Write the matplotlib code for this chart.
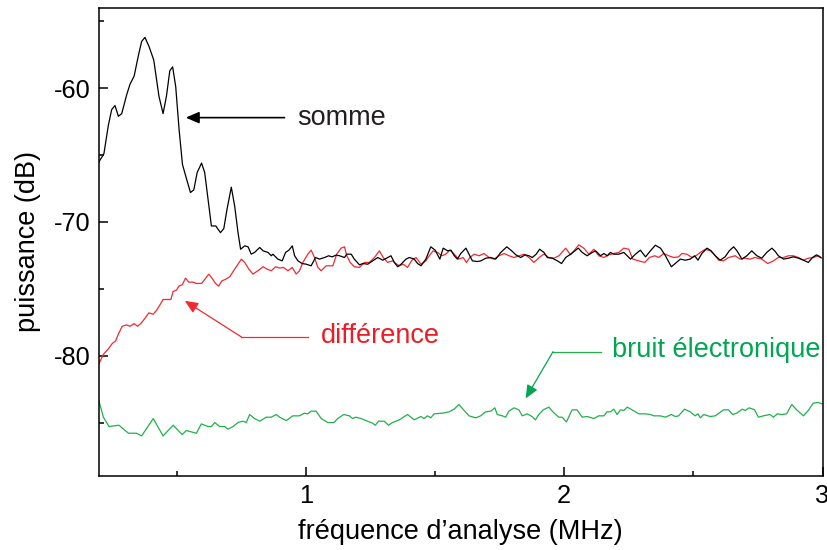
import matplotlib
matplotlib.use("Agg")
import matplotlib.pyplot as plt
from matplotlib.ticker import MultipleLocator

plt.rcParams['font.family'] = ['Liberation Sans', 'DejaVu Sans']

# ---- data (frequency in MHz, power in dB) ----
somme_x = [0.200, 0.219, 0.236, 0.249, 0.262, 0.275, 0.288, 0.307, 0.320, 0.336,
           0.352, 0.365, 0.378, 0.394, 0.412, 0.432, 0.448, 0.461, 0.474, 0.485,
           0.497, 0.510, 0.523, 0.539, 0.554, 0.567, 0.580, 0.597, 0.609, 0.622,
           0.635, 0.652, 0.670, 0.683, 0.695, 0.712, 0.725, 0.738,
           0.748, 0.764, 0.777, 0.789, 0.802, 0.822, 0.835, 0.854, 0.867, 0.873,
           0.892, 0.909, 0.922, 0.935, 0.948, 0.957, 0.970, 0.986, 1.002, 1.021,
           1.038, 1.053, 1.073, 1.089, 1.102, 1.118, 1.131, 1.150, 1.159, 1.176,
           1.188, 1.208, 1.221, 1.240, 1.259, 1.279, 1.298, 1.317, 1.330, 1.343,
           1.356, 1.369, 1.388, 1.401, 1.420, 1.433, 1.446, 1.465,
           1.484, 1.501, 1.519, 1.532, 1.549, 1.562, 1.575, 1.587, 1.600, 1.620,
           1.632, 1.645, 1.665, 1.678, 1.697, 1.716, 1.735, 1.755, 1.778, 1.797,
           1.813, 1.832, 1.849, 1.864, 1.877, 1.892, 1.905, 1.922, 1.935, 1.954,
           1.974, 1.990, 2.006, 2.025, 2.042, 2.055, 2.070, 2.089, 2.109, 2.122,
           2.141, 2.154, 2.167, 2.179, 2.192, 2.212,
           2.231, 2.257, 2.276, 2.295, 2.315, 2.334, 2.353, 2.373, 2.392, 2.415,
           2.430, 2.450, 2.469, 2.488, 2.505, 2.518, 2.533, 2.553, 2.569, 2.585,
           2.604, 2.623, 2.639, 2.656, 2.669, 2.688, 2.707, 2.726, 2.746, 2.765,
           2.784, 2.804, 2.817, 2.829, 2.849, 2.868, 2.887, 2.907, 2.926, 2.945,
           2.961, 2.977, 2.993]
somme_y = [-65.5, -64.9, -62.8, -61.6, -61.3, -62.1, -61.9, -60.5, -59.7, -59.1,
           -57.6, -56.5, -56.2, -56.9, -57.9, -60.6, -61.9, -60.6, -58.7, -58.4,
           -59.9, -63.1, -65.7, -66.8, -67.8, -67.6, -66.3, -65.6, -66.3, -68.3,
           -70.3, -70.3, -70.8, -70.5, -69.1, -67.4, -68.8, -70.8,
           -72.04, -71.79, -71.86, -72.41, -72.28, -71.91, -72.16, -72.28, -72.53, -72.41,
           -72.78, -72.91, -72.28, -72.11, -71.79, -72.53, -72.91, -73.11, -73.16, -73.28,
           -72.66, -72.78, -72.66, -72.53, -72.61, -72.48, -72.53, -72.66, -72.41, -72.41,
           -72.78, -73.21, -73.11, -73.16, -72.91, -72.66, -72.86, -72.66, -72.53, -73.03,
           -73.35, -73.16, -72.78, -72.66, -72.78, -73.11, -73.28, -72.78,
           -71.86, -72.11, -72.78, -71.96, -72.16, -72.11, -72.53, -72.78, -72.36, -71.96,
           -72.41, -72.91, -72.96, -72.91, -72.71, -72.66, -72.78, -72.28, -71.86, -72.16,
           -72.46, -72.66, -72.46, -72.53, -72.66, -72.41, -72.04, -72.28, -72.66, -72.71,
           -72.91, -73.11, -72.66, -72.41, -72.16, -71.96, -72.28, -72.53, -72.28, -72.16,
           -72.53, -72.36, -72.53, -72.28, -72.41, -72.41,
           -72.28, -72.78, -72.41, -72.11, -72.61, -72.16, -71.74, -71.96, -72.53, -73.35,
           -73.11, -72.78, -72.86, -72.78, -72.53, -72.86, -72.36, -71.96, -72.16, -72.53,
           -72.86, -72.61, -72.16, -71.86, -72.16, -72.78, -72.53, -72.16, -72.53, -72.71,
           -72.28, -71.96, -72.21, -72.53, -72.78, -72.71, -72.61, -72.71, -72.86, -73.03,
           -72.66, -72.46, -72.66]

diff_x = [0.200, 0.217, 0.236, 0.251, 0.264, 0.277, 0.290, 0.307, 0.320, 0.336,
          0.349, 0.362, 0.378, 0.393, 0.410, 0.423, 0.436, 0.448, 0.465, 0.478,
          0.487, 0.500, 0.509, 0.522, 0.535, 0.547, 0.564, 0.577, 0.597, 0.609,
          0.625, 0.637, 0.651, 0.663, 0.676, 0.689,
          0.706, 0.725, 0.738, 0.751, 0.764, 0.780, 0.796, 0.815, 0.835, 0.850,
          0.867, 0.883, 0.899, 0.914, 0.931, 0.948, 0.963, 0.976, 0.989, 1.008,
          1.021, 1.034, 1.047, 1.060, 1.079, 1.105, 1.120, 1.137, 1.150, 1.159,
          1.172, 1.188, 1.208, 1.227, 1.246, 1.266, 1.285, 1.300, 1.317, 1.336,
          1.349, 1.362, 1.378, 1.394, 1.411, 1.427, 1.446, 1.465, 1.478,
          1.493, 1.510, 1.527, 1.542, 1.558, 1.575, 1.591, 1.609, 1.622, 1.635,
          1.652, 1.671, 1.690, 1.710, 1.729, 1.748, 1.768, 1.787, 1.806, 1.826,
          1.845, 1.864, 1.883, 1.903, 1.922, 1.941, 1.961, 1.980, 2.006, 2.025,
          2.038, 2.057, 2.076, 2.096, 2.115, 2.134, 2.154, 2.173, 2.192, 2.212,
          2.231, 2.250, 2.266, 2.289, 2.312, 2.330, 2.351, 2.366, 2.385, 2.405,
          2.424, 2.443, 2.456, 2.475, 2.495, 2.510, 2.527, 2.546, 2.566, 2.582,
          2.598, 2.617, 2.636, 2.662, 2.681, 2.701, 2.720, 2.739, 2.765, 2.788,
          2.810, 2.829, 2.849, 2.868, 2.887, 2.907, 2.926, 2.945, 2.965, 2.984,
          2.997]
diff_y = [-80.6, -79.9, -79.5, -79.1, -78.9, -78.3, -77.8, -77.7, -77.8, -77.6,
          -77.8, -77.6, -77.2, -76.8, -76.9, -76.6, -76.2, -75.8, -75.8, -75.8,
          -75.2, -75.1, -74.8, -74.7, -74.2, -74.5, -74.5, -74.6, -74.6, -74.3,
          -73.9, -74.2, -74.6, -74.8, -74.4, -74.3,
          -74.10, -73.53, -73.16, -72.78, -73.03, -73.53, -73.90, -73.65, -73.35, -73.53,
          -73.65, -73.35, -73.45, -73.40, -73.65, -73.40, -73.90, -73.65, -73.03, -72.41,
          -72.11, -72.66, -73.40, -73.65, -73.28, -73.28, -72.41, -71.96, -71.86, -72.53,
          -73.03, -73.35, -73.40, -73.03, -73.03, -72.66, -72.16, -72.66, -73.03, -72.91,
          -73.11, -73.28, -73.16, -73.40, -72.86, -72.66, -73.16, -72.91, -72.53,
          -72.16, -72.28, -72.53, -72.41, -72.11, -72.41, -72.78, -72.66, -73.03, -72.66,
          -72.41, -72.53, -72.36, -72.66, -72.78, -72.53, -72.36, -72.53, -72.66, -72.53,
          -72.41, -72.66, -73.03, -72.66, -72.41, -72.66, -72.71, -72.53, -71.96, -72.46,
          -72.16, -71.71, -71.96, -72.41, -72.04, -72.53, -72.66, -72.46, -72.36, -72.28,
          -71.96, -72.04, -72.78, -72.91, -73.03, -72.66, -72.53, -72.66, -72.36, -72.53,
          -72.66, -72.61, -72.36, -72.41, -72.66, -72.53, -72.28, -72.04, -72.16, -72.46,
          -72.86, -72.91, -72.66, -72.53, -72.78, -72.71, -72.78, -72.66, -72.78, -73.11,
          -72.91, -72.66, -72.66, -72.53, -72.53, -72.66, -72.86, -72.71, -72.66, -72.53,
          -72.71]

bruit_x = [0.200, 0.217, 0.239, 0.277, 0.314, 0.345, 0.365, 0.410, 0.448, 0.487,
           0.522, 0.538, 0.558, 0.577, 0.596, 0.622, 0.635, 0.648, 0.667, 0.687,
           0.699, 0.719, 0.738, 0.757, 0.770, 0.783, 0.802, 0.822, 0.847, 0.867,
           0.886, 0.899, 0.925, 0.950, 0.976, 0.995, 1.008, 1.021, 1.040, 1.060,
           1.085, 1.109, 1.124, 1.147,
           1.169, 1.181, 1.194, 1.214, 1.239, 1.259, 1.269, 1.282, 1.304, 1.320,
           1.336, 1.362, 1.394, 1.420, 1.445, 1.458, 1.471, 1.484, 1.497, 1.529,
           1.555, 1.574, 1.593, 1.613, 1.632, 1.658, 1.677, 1.696, 1.716, 1.732,
           1.741, 1.761, 1.774, 1.786, 1.806, 1.825, 1.838, 1.857, 1.876, 1.889,
           1.902, 1.919, 1.941, 1.954, 1.979, 1.992, 2.009, 2.031, 2.050, 2.070,
           2.089,
           2.115, 2.134, 2.154, 2.166, 2.179, 2.192, 2.205, 2.218, 2.231, 2.244,
           2.263, 2.289, 2.314, 2.334, 2.347, 2.372, 2.392, 2.415, 2.430, 2.443,
           2.466, 2.488, 2.507, 2.518, 2.527, 2.540, 2.565, 2.585, 2.617, 2.636,
           2.652, 2.668, 2.690, 2.701, 2.716, 2.737, 2.752, 2.771, 2.797, 2.810,
           2.825, 2.842, 2.861, 2.881, 2.900, 2.926, 2.945, 2.964, 2.984, 2.997]
bruit_y = [-83.4, -84.6, -85.3, -85.2, -85.8, -85.8, -86.0, -84.7, -86.0, -85.2,
           -85.9, -85.6, -85.7, -85.8, -85.1, -85.3, -85.3, -85.0, -85.3, -85.3,
           -85.5, -85.3, -85.0, -84.9, -85.0, -84.4, -84.7, -84.9, -84.6, -84.6,
           -84.4, -84.6, -84.85, -84.5, -84.5, -84.3, -84.35, -84.15, -84.15, -84.7,
           -85.0, -85.0, -84.7, -84.4,
           -84.5, -84.7, -84.6, -84.7, -84.9, -85.05, -85.2, -84.9, -84.9, -85.2,
           -85.0, -84.8, -84.4, -84.8, -84.55, -84.7, -84.5, -84.65, -84.35, -84.3,
           -84.2, -84.0, -83.65, -84.1, -84.5, -84.65, -84.5, -84.2, -84.15, -83.9,
           -84.4, -84.5, -84.6, -84.15, -83.9, -84.05, -84.5, -84.35, -84.55, -84.8,
           -84.4, -84.05, -83.85, -84.15, -84.6, -84.6, -84.95, -84.05, -84.05, -84.6,
           -84.55,
           -84.7, -84.5, -84.5, -84.2, -84.2, -84.0, -84.4, -84.05, -84.1, -83.85,
           -84.05, -84.35, -84.35, -84.4, -84.5, -84.5, -84.6, -84.4, -84.55, -84.5,
           -84.0, -84.2, -84.5, -84.35, -84.65, -84.4, -84.55, -84.5, -84.05, -84.05,
           -84.4, -84.3, -84.0, -84.1, -83.9, -84.05, -84.6, -84.5, -84.4, -84.6,
           -84.35, -84.4, -84.35, -83.65, -84.05, -84.5, -84.1, -83.55, -83.5, -83.6]

x_ticks = [1, 2, 3]
x_ticklabels = ['1', '2', '3']
y_ticks = [-80, -70, -60]
y_ticklabels = ['-80', '-70', '-60']

BLACK = '#000000'
RED_LINE = '#F02A30'
RED_TEXT = '#ED1C24'
GREEN_LINE = '#22B04B'
GREEN_TEXT = '#00A651'

fig = plt.figure(figsize=(8.27, 5.50), dpi=100)
ax = fig.add_axes([0.1197, 0.1345, 0.8749, 0.851])

ax.plot(bruit_x, bruit_y, color=GREEN_LINE, lw=0.9)
ax.plot(diff_x, diff_y, color=RED_LINE, lw=0.9)
ax.plot(somme_x, somme_y, color=BLACK, lw=0.9)

ax.set_xlim(0.2, 3.0)
ax.set_ylim(-89, -54)
ax.set_xticks(x_ticks)
ax.set_xticklabels(x_ticklabels)
ax.set_yticks(y_ticks)
ax.set_yticklabels(y_ticklabels)
ax.xaxis.set_minor_locator(MultipleLocator(0.5))
ax.yaxis.set_minor_locator(MultipleLocator(5))
ax.tick_params(which='both', direction='in', width=1.1, labelsize=18.3)
ax.tick_params(which='major', length=6.5, pad=6)
ax.tick_params(which='minor', length=3.6)
for s in ax.spines.values():
    s.set_linewidth(1.1)

ax.set_xlabel('fréquence d’analyse (MHz)', fontsize=19.5, labelpad=8)
ax.set_ylabel('puissance (dB)', fontsize=19.5, labelpad=9)

arrow_kw = dict(arrowstyle='-|>,head_length=0.8,head_width=0.35',
                shrinkA=0, shrinkB=0, mutation_scale=10)

# somme
ax.annotate('', xy=(0.536, -62.2), xytext=(0.918, -62.2),
            arrowprops=dict(color=BLACK, lw=1.2, **arrow_kw))
ax.text(0.968, -62.2, 'somme', fontsize=19.5, color='#231F20',
        ha='left', va='center')

# différence
ax.plot([0.751, 1.007], [-78.6, -78.6], color=RED_LINE, lw=0.9)
ax.annotate('', xy=(0.532, -75.9), xytext=(0.751, -78.6),
            arrowprops=dict(color=RED_LINE, lw=0.9, **arrow_kw))
ax.text(1.060, -78.5, 'différence', fontsize=19.5, color=RED_TEXT,
        ha='left', va='center')

# bruit électronique
ax.plot([1.957, 2.141], [-79.7, -79.7], color=GREEN_LINE, lw=0.9)
ax.annotate('', xy=(1.851, -83.2), xytext=(1.957, -79.7),
            arrowprops=dict(color=GREEN_TEXT, lw=0.9, **arrow_kw))
ax.text(2.186, -79.6, 'bruit électronique', fontsize=19.5, color=GREEN_TEXT,
        ha='left', va='center')

fig.savefig('out.png', dpi=100)
